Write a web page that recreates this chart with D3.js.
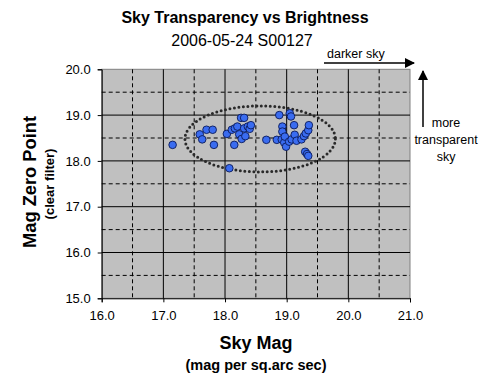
<!DOCTYPE html>
<html>
<head>
<meta charset="utf-8">
<script src="https://cdnjs.cloudflare.com/ajax/libs/d3/7.8.5/d3.min.js"></script>
<style>
  body { margin: 0; background: #fff; }
  text { font-family: Arial, "Liberation Sans", sans-serif; }
</style>
</head>
<body>
<svg width="489" height="390"></svg>
<script>
// sky brightness (mag / sq.arc sec) vs zero point
const skyMag = [17.15, 17.59, 17.63, 17.70, 17.80, 17.82, 18.03, 18.07, 18.15, 18.11,
  18.16, 18.20, 18.26, 18.31, 18.23, 18.27, 18.33, 18.31, 18.37, 18.40, 18.42,
  18.88, 19.05, 19.07, 19.12, 18.93, 18.93, 18.67, 18.84, 18.92, 18.96, 18.99,
  18.97, 19.04, 19.08, 19.13, 19.16, 19.24, 19.28, 19.31, 19.35, 19.36, 19.30,
  19.33, 19.35];
const zeroPoint = [18.35, 18.58, 18.47, 18.68, 18.68, 18.35, 18.59, 17.84, 18.35, 18.68,
  18.71, 18.75, 18.94, 18.94, 18.58, 18.48, 18.54, 18.71, 18.75, 18.70, 18.78,
  19.00, 19.04, 18.97, 18.78, 18.75, 18.64, 18.46, 18.46, 18.47, 18.40, 18.31,
  18.53, 18.42, 18.47, 18.57, 18.44, 18.47, 18.54, 18.60, 18.67, 18.78, 18.20,
  18.15, 18.11];
const xTicks = [16, 17, 18, 19, 20, 21];
const yTicks = [15, 16, 17, 18, 19, 20];
// dotted ellipse around the cluster: centre and half-axes in data units
const ellipseCenter = [18.57, 18.48];
const ellipseRadius = [1.22, 0.72];

const svg = d3.select("svg");
const plotLeft = 101.7, plotRight = 410, plotTop = 69.3, plotBottom = 298.3;

const x = d3.scaleLinear().domain([16, 21]).range([plotLeft, plotRight]);
const y = d3.scaleLinear().domain([15, 20]).range([plotBottom, plotTop]);

// plot background
svg.append("rect")
  .attr("x", plotLeft).attr("y", plotTop)
  .attr("width", plotRight - plotLeft).attr("height", plotBottom - plotTop)
  .attr("fill", "#c0c0c0")
  .attr("stroke", "#808080");

// grid: solid on whole numbers, dashed on halves
const grid = svg.append("g");
d3.range(16.5, 21, 0.5).forEach(function (v) {
  grid.append("line")
    .attr("x1", x(v)).attr("x2", x(v))
    .attr("y1", plotTop).attr("y2", plotBottom)
    .attr("stroke", "#000")
    .attr("stroke-width", 1)
    .attr("stroke-dasharray", v % 1 === 0 ? null : "4,3");
});
d3.range(15.5, 20, 0.5).forEach(function (v) {
  grid.append("line")
    .attr("x1", plotLeft).attr("x2", plotRight)
    .attr("y1", y(v)).attr("y2", y(v))
    .attr("stroke", "#000")
    .attr("stroke-width", 1)
    .attr("stroke-dasharray", v % 1 === 0 ? null : "4,3");
});

// axes
const xAxis = svg.append("g")
  .attr("transform", "translate(0," + plotBottom + ")")
  .call(d3.axisBottom(x).tickValues(xTicks).tickFormat(d3.format(".1f")).tickSize(4).tickPadding(8));
const yAxis = svg.append("g")
  .attr("transform", "translate(" + plotLeft + ",0)")
  .call(d3.axisLeft(y).tickValues(yTicks).tickFormat(d3.format(".1f")).tickSize(4).tickPadding(7));
[xAxis, yAxis].forEach(function (a) {
  a.select(".domain").attr("stroke", "#000");
  a.selectAll("text").attr("font-size", 13).attr("fill", "#000")
    .attr("font-family", "Arial, 'Liberation Sans', sans-serif");
});

// dotted ellipse
svg.append("ellipse")
  .attr("cx", x(ellipseCenter[0])).attr("cy", y(ellipseCenter[1]))
  .attr("rx", x(ellipseCenter[0] + ellipseRadius[0]) - x(ellipseCenter[0]))
  .attr("ry", y(ellipseCenter[1]) - y(ellipseCenter[1] + ellipseRadius[1]))
  .attr("fill", "none")
  .attr("stroke", "#2a2a2a")
  .attr("stroke-width", 3)
  .attr("stroke-linecap", "round")
  .attr("stroke-dasharray", "0,4.5");

// points
svg.append("g").selectAll("circle")
  .data(skyMag)
  .join("circle")
  .attr("cx", function (d) { return x(d); })
  .attr("cy", function (d, i) { return y(zeroPoint[i]); })
  .attr("r", 3.8)
  .attr("fill", "#3a6cf0")
  .attr("stroke", "#0a1a5a")
  .attr("stroke-width", 0.9);

// titles
svg.append("text").attr("x", 245).attr("y", 23).attr("text-anchor", "middle")
  .attr("font-size", 16).attr("font-weight", "bold").text("Sky Transparency vs Brightness");
svg.append("text").attr("x", 242).attr("y", 46).attr("text-anchor", "middle")
  .attr("font-size", 16).text("2006-05-24 S00127");
svg.append("text").attr("x", 256).attr("y", 349).attr("text-anchor", "middle")
  .attr("font-size", 18).attr("font-weight", "bold").text("Sky Mag");
svg.append("text").attr("x", 256).attr("y", 370).attr("text-anchor", "middle")
  .attr("font-size", 14.5).attr("font-weight", "bold").text("(mag per sq.arc sec)");
svg.append("text").attr("transform", "translate(36,182) rotate(-90)").attr("text-anchor", "middle")
  .attr("font-size", 18.3).attr("font-weight", "bold").text("Mag Zero Point");
svg.append("text").attr("transform", "translate(54,184) rotate(-90)").attr("text-anchor", "middle")
  .attr("font-size", 13).attr("font-weight", "bold").text("(clear filter)");

// annotation arrows
const defs = svg.append("defs");
defs.append("marker").attr("id", "head")
  .attr("viewBox", "0 0 10 10").attr("refX", 9).attr("refY", 5)
  .attr("markerWidth", 10).attr("markerHeight", 10).attr("markerUnits", "userSpaceOnUse")
  .attr("orient", "auto")
  .append("path").attr("d", "M0,0 L10,5 L0,10 z").attr("fill", "#000");

svg.append("line").attr("x1", 324).attr("y1", 63).attr("x2", 414).attr("y2", 63)
  .attr("stroke", "#000").attr("stroke-width", 1.5).attr("marker-end", "url(#head)");
svg.append("text").attr("x", 327).attr("y", 58).attr("font-size", 12.5).text("darker sky");

svg.append("line").attr("x1", 423).attr("y1", 127).attr("x2", 423).attr("y2", 71)
  .attr("stroke", "#000").attr("stroke-width", 1.5).attr("marker-end", "url(#head)");
["more", "transparent", "sky"].forEach(function (t, i) {
  svg.append("text").attr("x", 446).attr("y", 127 + i * 17).attr("text-anchor", "middle")
    .attr("font-size", 12.5).text(t);
});
</script>
</body>
</html>
